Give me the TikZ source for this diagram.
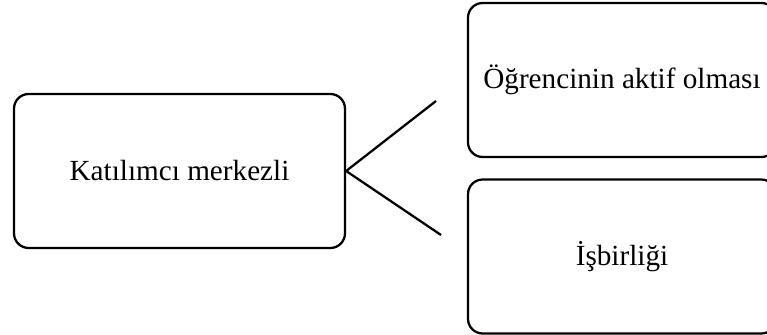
\documentclass[tikz,border=0pt]{standalone}
\usepackage{fontspec}
\setmainfont{Liberation Serif}
\begin{document}
\begin{tikzpicture}[x=0.75pt,y=-0.75pt,
  topic/.style={draw=black, line width=1.7pt, rounded corners=11pt,
    font=\fontsize{21.9}{26}\selectfont, align=center, inner sep=0pt},
  link/.style={draw=black, line width=1.7pt}]
  % page frame; the right-hand boxes run past its edge
  \useasboundingbox (0,0) rectangle (767,335);
  \clip (0,0) rectangle (767,335);
  \node[topic, minimum width=248.25pt, minimum height=115.5pt] (main) at (179.5,171) {Katılımcı merkezli};
  \node[topic, minimum width=231pt, minimum height=115.5pt] (active) at (622,80) {Öğrencinin aktif olması};
  \node[topic, minimum width=231pt, minimum height=115.5pt] (coop) at (622,256.5) {İşbirliği};
  % open branch lines from the central box
  \coordinate (b1) at (436,101);
  \coordinate (b2) at (441,235);
  \draw[link] (main.east) -- (b1);
  \draw[link] (main.east) -- (b2);
\end{tikzpicture}
\end{document}
